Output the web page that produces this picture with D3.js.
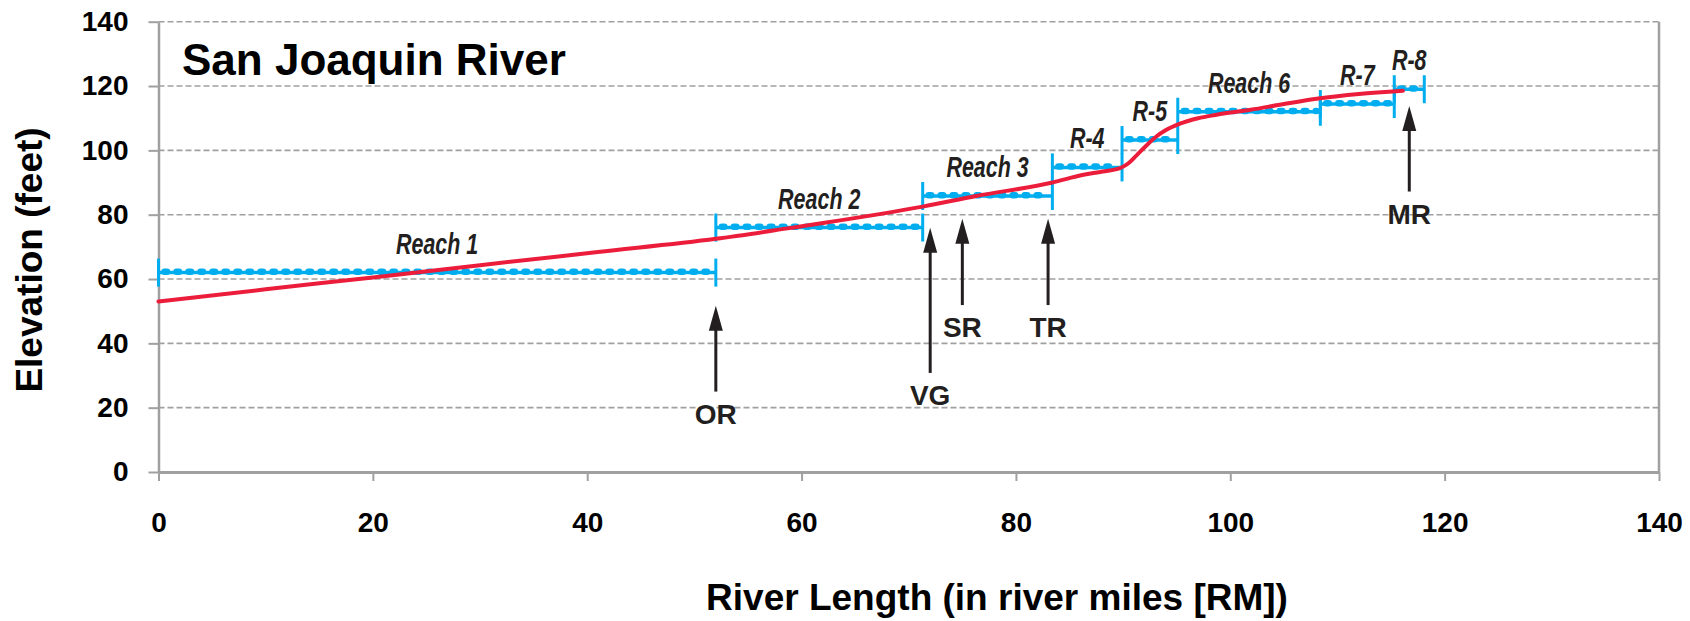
<!DOCTYPE html>
<html>
<head>
    <title>San Joaquin River</title>
    <meta charset="utf-8">
    <script src="https://d3js.org/d3.v7.min.js"></script>
    <style>
        body {
            margin: 0;
            background: #fff;
        }
        svg text {
            font-family: "Liberation Sans", Arial, sans-serif;
            fill: #231f20;
        }
    </style>
</head>
<body>
    <script>
        // River profile: river mile -> bed elevation (feet)
        var profileRM   = [0, 10, 20, 30, 41, 52, 59, 62, 71.3, 76.3, 83.4, 86.3, 88.1, 89.8, 90.5, 91.3, 92.2, 93.1, 94.0, 95.3, 97, 98.6, 101.9, 105, 108.4, 112, 116.1];
        var profileElev = [53, 56.8, 60.5, 64.3, 68.4, 72.5, 75.9, 77.4, 82.5, 85.8, 90.0, 92.4, 93.4, 94.6, 96.0, 98.6, 101.6, 104.3, 106.3, 108.3, 110, 111.0, 112.6, 114.4, 116.2, 117.5, 118.5];

        // Reaches: start / end river mile and water surface elevation
        var reachNames = ["Reach 1", "Reach 2", "Reach 3", "R-4", "R-5", "Reach 6", "R-7", "R-8"];
        var reachStart = [0, 52, 71.3, 83.4, 89.9, 95.1, 108.4, 115.3];
        var reachEnd   = [52, 71.3, 83.4, 89.9, 95.1, 108.4, 115.3, 118.1];
        var reachElev  = [62, 76, 85.8, 94.7, 103.2, 112, 114.4, 119];

        // Sites marked with arrows
        var siteNames = ["OR", "VG", "SR", "TR", "MR"];
        var siteRM    = [52, 72, 75, 83, 116.7];
        var siteTip   = [51.7, 75.9, 78.7, 78.7, 113.8];
        var siteTail  = [25, 30.8, 51.9, 51.9, 87.2];

        // Axis ticks
        var xTicks = [0, 20, 40, 60, 80, 100, 120, 140];
        var yTicks = [0, 20, 40, 60, 80, 100, 120, 140];

        var W = 1690, H = 621;
        var blue = "#00aeef", red = "#ec1c3b", axisGray = "#a0a0a0";

        var x = d3.scaleLinear().domain([0, 140]).range([158.5, 1659]);
        var y = d3.scaleLinear().domain([0, 140]).range([472, 21.7]);

        var svg = d3.select("body").append("svg")
                    .attr("width", W)
                    .attr("height", H);

        // Gridlines
        svg.append("g").selectAll("line")
            .data(yTicks.filter(function(d) { return d > 0; }))
          .enter().append("line")
            .attr("x1", x(0)).attr("x2", x(140))
            .attr("y1", function(d) { return y(d); })
            .attr("y2", function(d) { return y(d); })
            .style("stroke", axisGray)
            .style("stroke-width", 1.6)
            .style("stroke-dasharray", "6,3");

        // Right border
        svg.append("line")
            .attr("x1", x(140)).attr("x2", x(140))
            .attr("y1", y(0)).attr("y2", y(140))
            .style("stroke", axisGray)
            .style("stroke-width", 2.5);

        // Y axis
        var yAxis = svg.append("g")
            .attr("transform", "translate(" + x(0) + ",0)")
            .call(d3.axisLeft(y).tickValues(yTicks).tickSize(10).tickSizeOuter(0).tickPadding(20));

        // X axis
        var xAxis = svg.append("g")
            .attr("transform", "translate(0," + y(0) + ")")
            .call(d3.axisBottom(x).tickValues(xTicks).tickSize(9).tickSizeOuter(0).tickPadding(31));

        [yAxis, xAxis].forEach(function(ax) {
            ax.select(".domain").style("stroke", axisGray).style("stroke-width", 2.5);
            ax.selectAll(".tick line").style("stroke", axisGray).style("stroke-width", 2);
            ax.selectAll(".tick text")
                .style("font-family", "'Liberation Sans', Arial, sans-serif")
                .style("font-size", "28px")
                .style("font-weight", "bold")
                .style("fill", "#000");
        });
        xAxis.select(".domain").style("stroke-width", 3);

        // Water surface of each reach (chain of beads + end bars)
        var reaches = reachNames.map(function(name, i) {
            return { name: name, start: reachStart[i], end: reachEnd[i], elev: reachElev[i] };
        });

        var rg = svg.append("g").selectAll("g")
            .data(reaches)
          .enter().append("g");

        rg.append("line")
            .attr("x1", function(d) { return x(d.start); })
            .attr("x2", function(d) { return x(d.end); })
            .attr("y1", function(d) { return y(d.elev); })
            .attr("y2", function(d) { return y(d.elev); })
            .style("stroke", blue)
            .style("stroke-width", 3.5);

        rg.append("line")
            .attr("x1", function(d) { return x(d.start) + 6; })
            .attr("x2", function(d) { return x(d.end) - 4; })
            .attr("y1", function(d) { return y(d.elev) - 0.8; })
            .attr("y2", function(d) { return y(d.elev) - 0.8; })
            .style("stroke", blue)
            .style("stroke-width", 6.5)
            .style("stroke-linecap", "round")
            .style("stroke-dasharray", "2.5,9.5");

        rg.selectAll(".bar")
            .data(function(d) { return [d.start, d.end].map(function(s) { return { rm: s, elev: d.elev }; }); })
          .enter().append("line")
            .attr("class", "bar")
            .attr("x1", function(d) { return x(d.rm); })
            .attr("x2", function(d) { return x(d.rm); })
            .attr("y1", function(d) { return y(d.elev) - 14; })
            .attr("y2", function(d) { return y(d.elev) + 14; })
            .style("stroke", blue)
            .style("stroke-width", 3);

        rg.append("g")
            .attr("transform", function(d) {
                return "translate(" + x((d.start + d.end) / 2) + "," + (y(d.elev) - 19) + ") scale(0.74,1)";
            })
          .append("text")
            .attr("text-anchor", "middle")
            .style("font-size", "29px")
            .style("font-weight", "bold")
            .style("font-style", "italic")
            .text(function(d) { return d.name; });

        // River bed profile
        var line = d3.line()
            .x(function(d) { return x(d[0]); })
            .y(function(d) { return y(d[1]); })
            .curve(d3.curveMonotoneX);

        svg.append("path")
            .datum(profileRM.map(function(r, i) { return [r, profileElev[i]]; }))
            .attr("d", line)
            .style("fill", "none")
            .style("stroke", red)
            .style("stroke-width", 4)
            .style("stroke-linecap", "round");

        // Arrows to sites
        var sites = siteNames.map(function(name, i) {
            return { name: name, rm: siteRM[i], tip: siteTip[i], tail: siteTail[i] };
        });

        var ag = svg.append("g").selectAll("g")
            .data(sites)
          .enter().append("g");

        ag.append("line")
            .attr("x1", function(d) { return x(d.rm); })
            .attr("x2", function(d) { return x(d.rm); })
            .attr("y1", function(d) { return y(d.tail); })
            .attr("y2", function(d) { return y(d.tip) + 20; })
            .style("stroke", "#231f20")
            .style("stroke-width", 3);

        ag.append("path")
            .attr("d", function(d) {
                var cx = x(d.rm), ty = y(d.tip);
                return "M" + cx + "," + ty + "L" + (cx + 7) + "," + (ty + 25) + "L" + (cx - 7) + "," + (ty + 25) + "Z";
            })
            .style("fill", "#231f20");

        ag.append("text")
            .attr("x", function(d) { return x(d.rm); })
            .attr("y", function(d) { return y(d.tail) + 32; })
            .attr("text-anchor", "middle")
            .style("font-size", "28px")
            .style("font-weight", "bold")
            .text(function(d) { return d.name; });

        // Chart title
        svg.append("text")
            .attr("x", 182)
            .attr("y", 75)
            .style("font-size", "44px")
            .style("font-weight", "bold")
            .style("fill", "#000")
            .text("San Joaquin River");

        // Axis titles
        svg.append("text")
            .attr("x", 997)
            .attr("y", 610)
            .attr("text-anchor", "middle")
            .style("font-size", "37px")
            .style("font-weight", "bold")
            .style("fill", "#000")
            .text("River Length (in river miles [RM])");

        svg.append("text")
            .attr("transform", "translate(42,260) rotate(-90)")
            .attr("text-anchor", "middle")
            .style("font-size", "37px")
            .style("font-weight", "bold")
            .style("fill", "#000")
            .text("Elevation (feet)");
    </script>
</body>
</html>
